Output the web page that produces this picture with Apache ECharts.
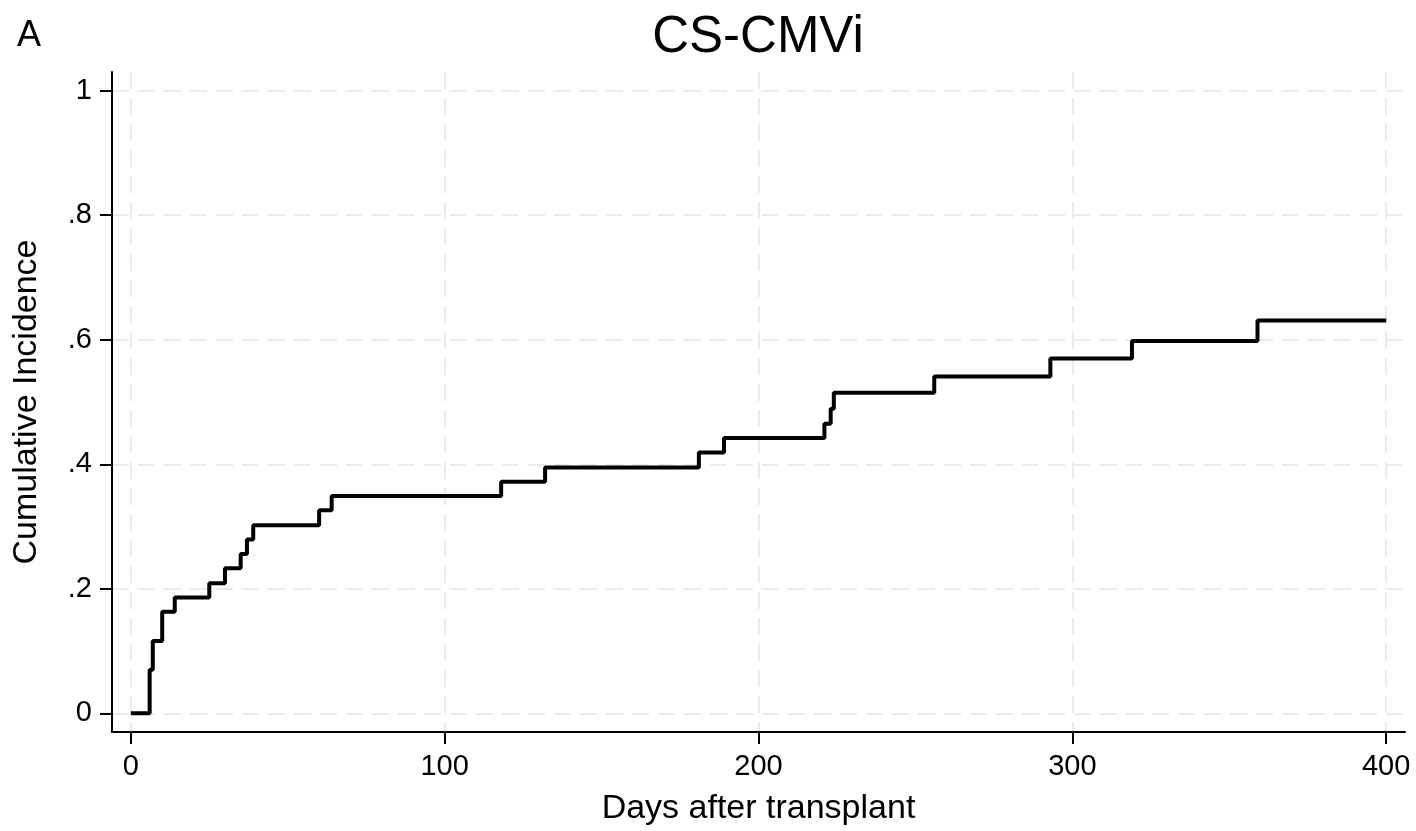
<!DOCTYPE html>
<html>
<head>
<meta charset="utf-8">
<script src="https://cdn.jsdelivr.net/npm/echarts@6/dist/echarts.min.js"></script>
<style>
  html, body { margin: 0; padding: 0; background: #fff; }
  #chart { width: 1416px; height: 831px; }
</style>
</head>
<body>
<div id="chart"></div>
<script>
// 累积发生率曲线数据
const days = [0, 6, 7, 10, 14, 25, 30, 35, 37, 39, 60, 64, 118, 132, 181, 189, 221, 223, 224, 256, 293, 319, 359, 400];
const incidence = [0, 0.070, 0.116, 0.163, 0.186, 0.209, 0.233, 0.256, 0.279, 0.302, 0.326, 0.349, 0.372, 0.395, 0.419, 0.442, 0.465, 0.489, 0.515, 0.541, 0.570, 0.598, 0.631, 0.631];

const xTicks = [0, 100, 200, 300, 400];
const yTicks = [0, 0.2, 0.4, 0.6, 0.8, 1];

const fontFamily = '"Liberation Sans", Arial, sans-serif';

const chart = echarts.init(document.getElementById('chart'));

const gridLine = {
  show: true,
  lineStyle: { color: '#ebebeb', width: 2, type: [17, 9] }
};

chart.setOption({
  animation: false,
  backgroundColor: '#fff',
  title: [
    {
      text: 'CS-CMVi',
      left: 758, top: 12, textAlign: 'center', padding: 0,
      textStyle: { fontFamily: fontFamily, fontSize: 51, fontWeight: 'normal', color: '#000' }
    },
    {
      text: 'A',
      left: 17, top: 18, padding: 0,
      textStyle: { fontFamily: fontFamily, fontSize: 36, fontWeight: 'normal', color: '#000' }
    }
  ],
  grid: { left: 112, right: 11, top: 72, bottom: 98 },
  xAxis: {
    type: 'value',
    min: -6,
    max: 406,
    name: 'Days after transplant',
    nameLocation: 'middle',
    nameGap: 60,
    nameTextStyle: { fontFamily: fontFamily, fontSize: 34, color: '#000' },
    axisLine: { onZero: false, lineStyle: { color: '#000', width: 2 } },
    axisTick: { show: true, length: 12, customValues: xTicks, lineStyle: { color: '#000', width: 2 } },
    axisLabel: { customValues: xTicks, margin: 20, fontFamily: fontFamily, fontSize: 29, color: '#000' },
    splitLine: gridLine
  },
  yAxis: {
    type: 'value',
    min: -0.03,
    max: 1.03,
    name: 'Cumulative Incidence',
    nameLocation: 'middle',
    nameGap: 68,
    nameTextStyle: { fontFamily: fontFamily, fontSize: 34, color: '#000' },
    axisLine: { show: true, onZero: false, lineStyle: { color: '#000', width: 2 } },
    axisTick: { show: true, length: 12, customValues: yTicks, lineStyle: { color: '#000', width: 2 } },
    axisLabel: {
      customValues: yTicks, margin: 20, fontFamily: fontFamily, fontSize: 29, color: '#000',
      formatter: v => {
        if (v === 0) return '0';
        if (v === 1) return '1';
        return String(+v.toFixed(1)).replace(/^0/, '');
      }
    },
    splitLine: gridLine
  },
  series: [{
    type: 'line',
    step: 'end',
    data: days.map((d, i) => [d, incidence[i]]),
    showSymbol: false,
    symbol: 'none',
    lineStyle: { color: '#000', width: 4 }
  }]
});
</script>
</body>
</html>
